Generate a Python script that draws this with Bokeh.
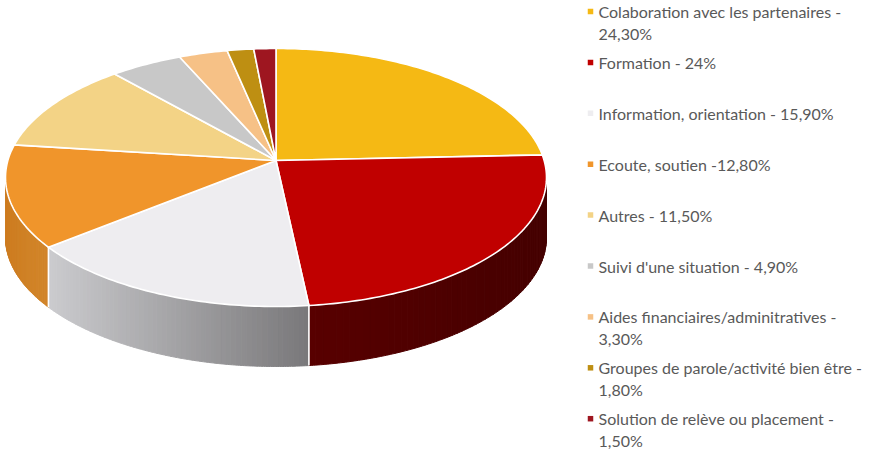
import numpy as np
from bokeh.plotting import figure
from bokeh.models import Range1d
from bokeh.embed import file_html
from bokeh.resources import INLINE
from bokeh.core.properties import value

# ---------------- data ----------------
categories = [
    "Colaboration avec les partenaires",
    "Formation",
    "Information, orientation",
    "Ecoute, soutien",
    "Autres",
    "Suivi d'une situation",
    "Aides financiaires/adminitratives",
    "Groupes de parole/activité bien être",
    "Solution de relève ou placement",
]
values = [24.3, 24.0, 15.9, 12.8, 11.5, 4.9, 3.3, 1.8, 1.5]
legend_labels = [
    ["Colaboration avec les partenaires -", "24,30%"],
    ["Formation - 24%"],
    ["Information, orientation - 15,90%"],
    ["Ecoute, soutien -12,80%"],
    ["Autres - 11,50%"],
    ["Suivi d'une situation - 4,90%"],
    ["Aides financiaires/adminitratives -", "3,30%"],
    ["Groupes de parole/activité bien être -", "1,80%"],
    ["Solution de relève ou placement -", "1,50%"],
]
colors = ["#F5B914", "#C00000", "#EEEDF0", "#F0952B", "#F3D386",
          "#C8C8C8", "#F6C186", "#BE8F12", "#9E1620"]
# side shading (left-x colour, right-x colour)
side_colors = [
    ("#B08510", "#A07808"),
    ("#580000", "#450000"),
    ("#CBCBCE", "#79787A"),
    ("#CD7C21", "#D2862A"),
    ("#C8A860", "#B89850"),
    ("#A0A0A0", "#909090"),
    ("#C89A68", "#B88A58"),
    ("#906A08", "#806008"),
    ("#701018", "#600C14"),
]

# ---------------- geometry ----------------
W, H = 872, 449
cx, cy, rx, ry = 275.5, 177.0, 270.5, 129.0
apex_y = 160.0
depth = 60.0
a = (cy - apex_y) / ry
beta = (1 - np.sqrt(1 - a * a)) / a


def rim(theta_deg):
    t = np.radians(np.asarray(theta_deg, dtype=float))
    z = np.sin(t) + 1j * np.cos(t)
    w = (z + 1j * beta) / (1 - 1j * beta * z)
    return cx + rx * w.real, cy - ry * w.imag


def hex2rgb(h):
    h = h.lstrip("#")
    return np.array([int(h[i:i + 2], 16) for i in (0, 2, 4)], dtype=float)


def rgb2hex(c):
    c = np.clip(np.round(c), 0, 255).astype(int)
    return "#%02x%02x%02x" % tuple(c)


total = sum(values)
bounds = np.concatenate([[0.0], np.cumsum(values) / total * 360.0])
apex_x, apex_yy = cx, apex_y

front_lo = 90.0 + np.degrees(2 * np.arctan(beta))
front_hi = 270.0 - np.degrees(2 * np.arctan(beta))

p = figure(width=W, height=H, x_range=Range1d(0, W), y_range=Range1d(H, 0),
           output_backend="svg", toolbar_location=None, min_border=0)
p.axis.visible = False
p.grid.visible = False
p.outline_line_color = None
p.background_fill_color = "white"
p.border_fill_color = "white"

# sides (front part)
sx, sy, sc = [], [], []
for i in range(len(values)):
    lo = max(bounds[i], front_lo)
    hi = min(bounds[i + 1], front_hi)
    if hi <= lo:
        continue
    edges = np.linspace(lo, hi, 60)
    ex, ey = rim(edges)
    xmin, xmax = ex.min(), ex.max()
    cl, cr = hex2rgb(side_colors[i][0]), hex2rgb(side_colors[i][1])
    for j in range(len(edges) - 1):
        ts = np.linspace(edges[j], edges[j + 1], 4)
        tx, ty = rim(ts)
        xs = list(tx) + list(tx[::-1])
        ys = list(ty) + list(ty[::-1] + depth)
        xm = 0.5 * (tx[0] + tx[-1])
        f = (xm - xmin) / (xmax - xmin) if xmax > xmin else 0.5
        sx.append(xs)
        sy.append(ys)
        sc.append(rgb2hex(cl + (cr - cl) * f))
p.patches(sx, sy, fill_color=sc, line_color=sc, line_width=1)

# top faces
tx_all, ty_all = [], []
for i in range(len(values)):
    ts = np.linspace(bounds[i], bounds[i + 1], max(8, int(values[i] * 4)))
    px, py = rim(ts)
    tx_all.append([apex_x] + list(px))
    ty_all.append([apex_yy] + list(py))
p.patches(tx_all, ty_all, fill_color=colors, line_color="white", line_width=1.6,
          line_join="round")

# white edges on the side at slice boundaries
for b in bounds:
    bb = b % 360
    if front_lo < bb < front_hi:
        bx, by = rim(bb)
        p.segment(x0=[bx], y0=[by], x1=[bx], y1=[by + depth],
                  line_color="white", line_width=1.6)

# ---------------- legend ----------------
leg_x_sq, leg_x_txt = 590.0, 598.0
leg_y0, leg_step, leg_line = 11.0, 50.9, 21.5
mx, my, lx, ly, lt = [], [], [], [], []
for k, lines in enumerate(legend_labels):
    yk = leg_y0 + k * leg_step
    mx.append(leg_x_sq)
    my.append(yk)
    for m, line in enumerate(lines):
        lx.append(leg_x_txt)
        ly.append(yk + m * leg_line)
        lt.append(line)
p.rect(mx, my, width=5.5, height=5.5, width_units="screen", height_units="screen",
       fill_color=colors, line_color=None)
p.text(lx, ly, text=lt, text_font=value("Lato"), text_font_size="16px",
       text_color="#595959", text_baseline="middle", text_align="left")

open("out.html", "w").write(file_html(p, INLINE))
